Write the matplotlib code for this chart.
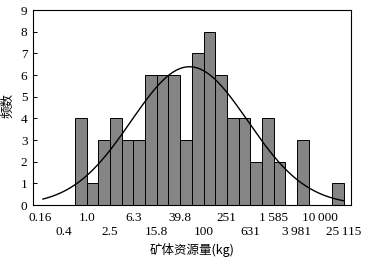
import numpy as np
import matplotlib
matplotlib.use("Agg")
import matplotlib.pyplot as plt

# Histogram bins (log10 of mineral resource in kg), bin width 0.2
bin_left = [-0.2, 0.0, 0.2, 0.4, 0.6, 0.8, 1.0, 1.2, 1.4, 1.6, 1.8, 2.0,
            2.2, 2.4, 2.6, 2.8, 3.0, 3.2, 3.4, 3.6, 3.8, 4.0, 4.2]
counts = [4, 1, 3, 4, 3, 3, 6, 6, 6, 3, 7, 8,
          6, 4, 4, 2, 4, 2, 0, 3, 0, 0, 1]
bin_width = 0.2

top_pos = [-0.8, 0.0, 0.8, 1.6, 2.4, 3.2, 4.0]
top_labels = ["0.16", "1.0", "6.3", "39.8", "251", "1\u2009585", "10\u2009000"]
bot_pos = [-0.4, 0.4, 1.2, 2.0, 2.8, 3.6, 4.4]
bot_labels = ["0.4", "2.5", "15.8", "100", "631", "3\u2009981", "25\u2009115"]

serif = ["Liberation Serif", "DejaVu Serif"]
cjk = ["Noto Sans CJK SC", "DejaVu Sans"]

fig = plt.figure(figsize=(3.73, 2.62), dpi=100)
ax = fig.add_axes([33/373, 1-205/262, (351-33)/373, (205-10)/262])

centers = np.array(bin_left) + bin_width/2
cnt = np.array(counts)
ax.bar(np.array(bin_left), cnt, width=bin_width, align='edge',
       color='#858585', edgecolor='black', linewidth=0.7)

# fitted normal curve from histogram data
N = cnt.sum()
mu = (centers*cnt).sum()/N
sd = np.sqrt(((centers-mu)**2*cnt).sum()/N)
xs = np.linspace(-0.75, 4.4, 200)
ys = N*bin_width/(sd*np.sqrt(2*np.pi))*np.exp(-(xs-mu)**2/(2*sd**2))
ax.plot(xs, ys, color='black', linewidth=1.0)

ax.set_xlim(-0.92, 4.526)
ax.set_ylim(0, 9)
ax.set_yticks(range(0, 10))
ax.set_yticklabels([str(i) for i in range(10)], fontfamily=serif, fontsize=9.5)
ax.tick_params(axis='y', direction='in', length=3, width=0.7, pad=4)
ax.set_xticks(top_pos)
ax.set_xticklabels(top_labels, fontfamily=serif, fontsize=9.5)
ax.set_xticks(bot_pos, minor=True)
ax.set_xticklabels(bot_labels, minor=True, fontfamily=serif, fontsize=9.5)
ax.tick_params(axis='x', which='major', length=0, pad=5)
ax.tick_params(axis='x', which='minor', length=0, pad=15)
for s in ax.spines.values():
    s.set_linewidth(0.8)

fig.text(192/373, 1-250/262, "矿体资源量(kg)", fontfamily=cjk, fontsize=9,
         ha='center', va='center')
fig.text(8/373, 1-105/262, "频数", fontfamily=cjk, fontsize=9,
         ha='center', va='center', rotation=90)

fig.savefig("out.png", dpi=100)
